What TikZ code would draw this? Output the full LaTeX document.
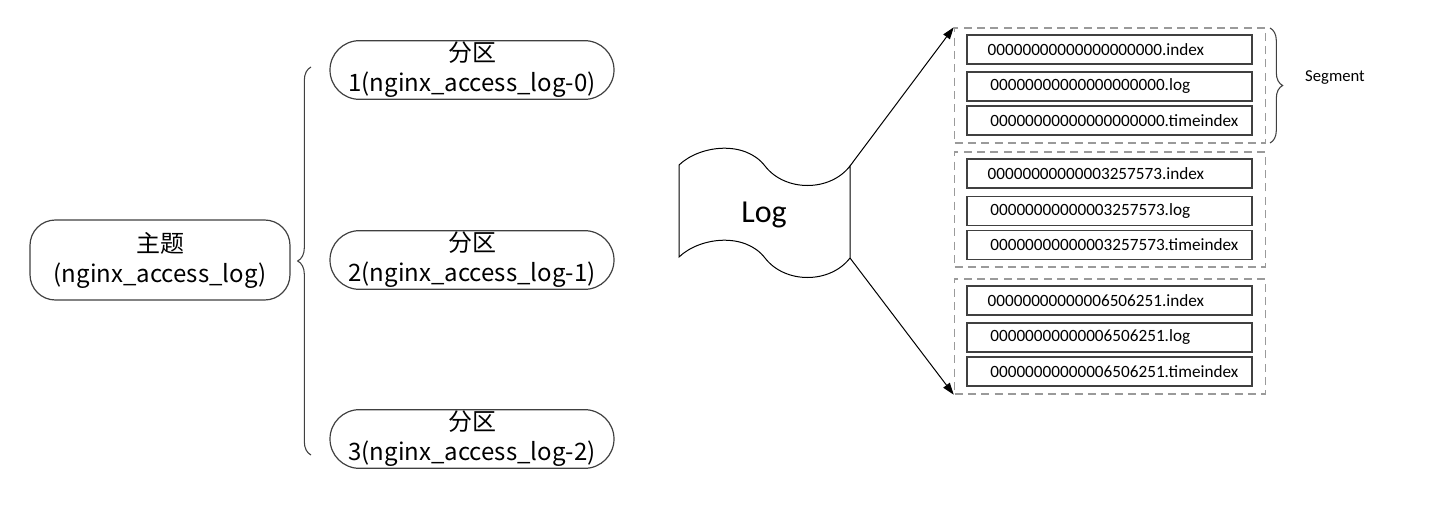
\documentclass[tikz,border=0pt]{standalone}
\usepackage{fontspec}
\setmainfont{Carlito}
\newfontfamily\cjk{Noto Sans CJK SC}
\usetikzlibrary{arrows.meta,decorations.pathreplacing}
\definecolor{lineC}{HTML}{404040}
\definecolor{dashC}{HTML}{9A9A9A}
\newcommand{\fname}[1]{\mbox{#1}}
\newcommand{\fnameb}[1]{\mbox{\hspace*{2pt}#1}}
\begin{document}
\begin{tikzpicture}[x=0.75pt,y=-0.75pt,
  roundbox/.style={draw=lineC, line width=0.9pt, rounded corners=19pt, align=center,
    font=\cjk\fontsize{18}{22.5}\selectfont, inner sep=0pt},
  partbox/.style={roundbox, rounded corners=22pt, minimum width=213pt, minimum height=44pt},
  segbox/.style={draw=dashC, line width=1.1pt, dash pattern=on 6pt off 4pt,
    minimum width=233.25pt, minimum height=86.25pt, inner sep=0pt},
  filebox/.style={draw=lineC, line width=1.1pt, minimum height=21.75pt, inner ysep=0pt,
    inner xsep=15.5pt, text width=182.75pt, align=left, font=\fontsize{12.9}{14}\selectfont},
  bracestyle/.style={draw=lineC, line width=0.8pt, decorate},
  arrowline/.style={draw=black, line width=0.75pt, -{Triangle[length=9pt,width=6pt]}}
]
\useasboundingbox (0,0) rectangle (1440,514);

% left part
\node[roundbox, minimum width=195pt, minimum height=60pt] (topic) at (160,260)
  {主题\\(nginx\_access\_log)};
\node[partbox] (p1) at (472,70) {分区\\1(nginx\_access\_log-0)};
\node[partbox] (p2) at (472,260) {分区\\2(nginx\_access\_log-1)};
\node[partbox] (p3) at (472,439) {分区\\3(nginx\_access\_log-2)};
\coordinate (bBot) at (311,455);
\coordinate (bTop) at (311,67);
\draw[bracestyle, decoration={brace, amplitude=10pt}] (bBot) -- (bTop);

% log shape
\draw[draw=black, line width=0.75pt]
  (679,165) .. controls (700,145) and (745,140) .. (765,166)
  .. controls (785,192) and (830,192) .. (850,166)
  -- (850,258)
  .. controls (830,284) and (785,284) .. (765,258)
  .. controls (745,232) and (700,237) .. (679,257) -- cycle;
\node[font=\fontsize{24}{24}\selectfont] (log) at (764,215) {Log};
\coordinate (logTR) at (850,166);
\coordinate (logBR) at (850,258);

% segments
\node[segbox] (s1) at (1110,85.5) {};
\node[segbox] (s2) at (1110,209.5) {};
\node[segbox] (s3) at (1110,336.5) {};

\node[filebox] (f11) at (1109.5,49.5) {\fname{00000000000000000000.index}};
\node[filebox] (f12) at (1109.5,86.5) {\fnameb{00000000000000000000.log}};
\node[filebox] (f13) at (1109.5,120.5) {\fnameb{00000000000000000000.timeindex}};
\node[filebox] (f21) at (1109.5,173.5) {\fname{00000000000003257573.index}};
\node[filebox] (f22) at (1109.5,211) {\fnameb{00000000000003257573.log}};
\node[filebox] (f23) at (1109.5,245) {\fnameb{00000000000003257573.timeindex}};
\node[filebox] (f31) at (1109.5,300.5) {\fname{00000000000006506251.index}};
\node[filebox] (f32) at (1109.5,337.5) {\fnameb{00000000000006506251.log}};
\node[filebox] (f33) at (1109.5,371.5) {\fnameb{00000000000006506251.timeindex}};

\draw[arrowline] (logTR) -- (s1.north west);
\draw[arrowline] (logBR) -- (s3.south west);

\coordinate (sbTop) at (1270,28);
\coordinate (sbBot) at (1270,143);
\draw[bracestyle, decoration={brace, amplitude=9.5pt}] (sbTop) -- (sbBot);
\node[font=\fontsize{12.5}{14}\selectfont] (seg) at (1335,78) {Segment};
\end{tikzpicture}
\end{document}
